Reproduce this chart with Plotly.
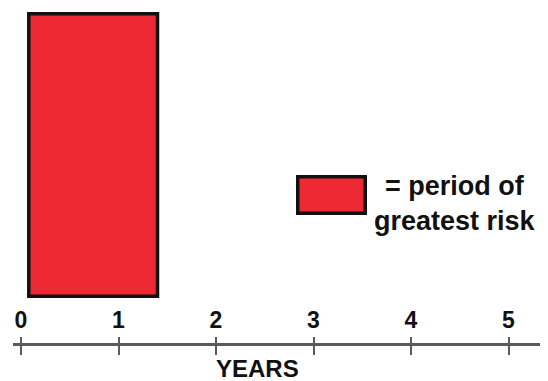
import plotly.graph_objects as go

# Data
period_start = [0.08]
period_end = [1.4]
risk_level = [1.0]
tick_values = [0, 1, 2, 3, 4, 5]
tick_labels = ["0", "1", "2", "3", "4", "5"]
axis_title = "YEARS"
legend_text = "= period of<br>greatest risk"

RED = "#ED2A33"
INK = "#111111"
AXIS = "#5a5a5a"
FONT = "Liberation Sans, Arial, sans-serif"

# geometry (pixels)
L, R, T, B = 13, 8, 10, 37
W, H = 548, 381
PW, PH = W - L - R, H - T - B


def px_x(p):
    return (p - L) / PW


def px_y(p):
    return (H - B - p) / PH


widths = [e - s for s, e in zip(period_start, period_end)]
centers = [(s + e) / 2 for s, e in zip(period_start, period_end)]

fig = go.Figure()
fig.add_trace(go.Bar(
    x=centers, y=risk_level, width=widths, base=0,
    marker=dict(color=RED, line=dict(color=INK, width=3.5)),
    showlegend=False, hoverinfo="skip",
))
fig.add_trace(go.Scatter(x=[None], y=[None], xaxis="x2", showlegend=False,
                         hoverinfo="skip"))

xr = [-0.082, 5.323]
fig.update_layout(
    width=W, height=H,
    margin=dict(l=L, r=R, t=T, b=B),
    paper_bgcolor="white", plot_bgcolor="white",
    font=dict(family=FONT, color=INK),
    xaxis=dict(
        range=xr,
        anchor="free", position=0, side="top",
        showline=True, linecolor=AXIS, linewidth=2.5,
        ticks="outside", ticklen=6, tickwidth=2, tickcolor=AXIS,
        tickvals=tick_values, ticktext=tick_labels,
        tickfont=dict(family=FONT, size=23, color=INK, weight="bold"),
        showgrid=False, zeroline=False, fixedrange=True,
    ),
    xaxis2=dict(
        range=xr, overlaying="x", matches="x",
        anchor="free", position=0, side="top",
        showline=False, ticks="inside", ticklen=10, tickwidth=2,
        tickcolor=AXIS, tickvals=tick_values, showticklabels=False,
        showgrid=False, zeroline=False, fixedrange=True,
    ),
    yaxis=dict(
        range=[-0.169, 1.0133], visible=False, showgrid=False, zeroline=False,
        fixedrange=True,
    ),
    shapes=[dict(
        type="rect", xref="paper", yref="paper",
        x0=px_x(297.75), x1=px_x(365.25),
        y0=px_y(213.25), y1=px_y(176.75),
        fillcolor=RED, line=dict(color=INK, width=3.5),
    )],
    annotations=[
        dict(
            text=legend_text, xref="paper", yref="paper",
            x=px_x(455), y=px_y(203),
            xanchor="center", yanchor="middle", align="center", showarrow=False,
            font=dict(family=FONT, size=27, color=INK, weight="bold"),
        ),
        dict(
            text=axis_title, xref="paper", yref="paper",
            x=px_x(257), y=0, yshift=-24,
            xanchor="center", yanchor="middle", showarrow=False,
            font=dict(family=FONT, size=24, color=INK, weight="bold"),
        ),
    ],
)

fig.write_html("out.html", config={"displayModeBar": False},
               post_script="document.body.style.margin='0px';")
